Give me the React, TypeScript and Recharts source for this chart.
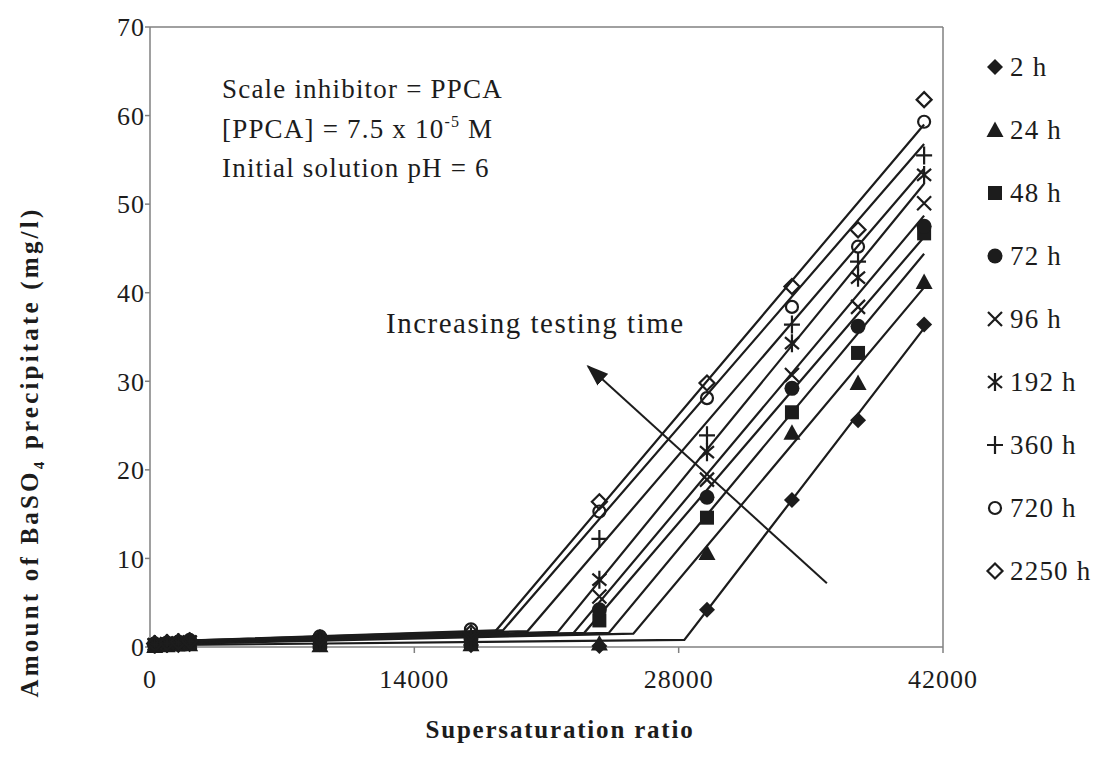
import React from "react";
import { ComposedChart, Scatter, XAxis, YAxis, ReferenceLine } from "recharts";

const FONT = '"Liberation Serif", "Times New Roman", serif';
const INK = "#1c1c1c";
const FRAME = "#808080";

// supersaturation ratios of the tested solutions
const ratios = [250, 900, 1500, 2100, 9000, 17000, 23800, 29500, 34000, 37500, 41000];

const testTimes = ["2 h", "24 h", "48 h", "72 h", "96 h", "192 h", "360 h", "720 h", "2250 h"];

// BaSO4 precipitate (mg/l) per testing time, one value per ratio
const ppt2h = [0.1, 0.2, 0.2, 0.3, 0.3, 0.2, 0.1, 4.2, 16.6, 25.6, 36.4];
const ppt24h = [0.1, 0.2, 0.3, 0.3, 0.2, 0.3, 0.4, 10.6, 24.2, 29.8, 41.2];
const ppt48h = [0.2, 0.3, 0.3, 0.4, 0.5, 0.5, 3.0, 14.6, 26.5, 33.2, 46.7];
const ppt72h = [0.3, 0.4, 0.5, 0.6, 0.8, 0.9, 4.2, 16.9, 29.2, 36.2, 47.5];
const ppt96h = [0.2, 0.3, 0.4, 0.5, 0.6, 0.7, 5.7, 18.9, 30.7, 38.4, 50.1];
const ppt192h = [0.3, 0.4, 0.5, 0.6, 0.7, 0.9, 7.6, 22.0, 34.3, 41.7, 53.3];
const ppt360h = [0.3, 0.4, 0.5, 0.6, 0.8, 1.2, 12.2, 23.9, 36.4, 43.5, 55.5];
const ppt720h = [0.4, 0.5, 0.6, 0.8, 1.2, 2.0, 15.3, 28.1, 38.4, 45.2, 59.3];
const ppt2250h = [0.4, 0.5, 0.6, 0.7, 1.0, 1.6, 16.4, 29.8, 40.7, 47.1, 61.8];

// trend lines: flat induction segment, then linear growth [ratio, mg/l]
const fit2h = [[250, 0.2], [28300, 0.8], [41000, 36.0]];
const fit24h = [[250, 0.3], [25600, 1.5], [41000, 40.6]];
const fit48h = [[250, 0.4], [24300, 1.6], [41000, 44.4]];
const fit72h = [[250, 0.5], [23000, 1.6], [41000, 46.3]];
const fit96h = [[250, 0.4], [22400, 1.5], [41000, 48.7]];
const fit192h = [[250, 0.5], [21600, 1.7], [41000, 52.3]];
const fit360h = [[250, 0.5], [20000, 1.8], [41000, 54.0]];
const fit720h = [[250, 0.6], [18700, 1.9], [41000, 56.8]];
const fit2250h = [[250, 0.6], [18300, 1.8], [41000, 59.0]];

// "increasing testing time" arrow, tail then tip
const arrowPath = [[35850, 7.2], [23200, 31.7]];

const xTicks = [0, 14000, 28000, 42000];
const yTicks = [0, 10, 20, 30, 40, 50, 60, 70];

type Kind = "diamond" | "triangle" | "square" | "dot" | "cross" | "star" | "plus" | "ring" | "openDiamond";
const kinds: Kind[] = ["diamond", "triangle", "square", "dot", "cross", "star", "plus", "ring", "openDiamond"];
const values = [ppt2h, ppt24h, ppt48h, ppt72h, ppt96h, ppt192h, ppt360h, ppt720h, ppt2250h];
const fits = [fit2h, fit24h, fit48h, fit72h, fit96h, fit192h, fit360h, fit720h, fit2250h];

const series = testTimes.map((name, i) => ({
  name,
  kind: kinds[i],
  points: ratios.map((x, j) => ({ x, y: values[i][j] })),
  fit: fits[i].map(([x, y]) => ({ x, y })),
}));

function Marker({ kind, x, y }: { kind: Kind; x: number; y: number }) {
  const sw = 2.2;
  switch (kind) {
    case "diamond":
      return <polygon points={`${x},${y - 8} ${x + 8},${y} ${x},${y + 8} ${x - 8},${y}`} fill={INK} />;
    case "triangle":
      return <polygon points={`${x},${y - 8.5} ${x + 8.5},${y + 7} ${x - 8.5},${y + 7}`} fill={INK} />;
    case "square":
      return <rect x={x - 7} y={y - 7} width={14} height={14} fill={INK} />;
    case "dot":
      return <circle cx={x} cy={y} r={7.5} fill={INK} />;
    case "cross":
      return (
        <path d={`M${x - 7},${y - 7}L${x + 7},${y + 7}M${x + 7},${y - 7}L${x - 7},${y + 7}`}
          stroke={INK} strokeWidth={sw} fill="none" />
      );
    case "star":
      return (
        <path d={`M${x - 7},${y - 6}L${x + 7},${y + 6}M${x + 7},${y - 6}L${x - 7},${y + 6}M${x},${y - 9}L${x},${y + 9}`}
          stroke={INK} strokeWidth={sw} fill="none" />
      );
    case "plus":
      return (
        <path d={`M${x - 8},${y}L${x + 8},${y}M${x},${y - 9}L${x},${y + 9}`}
          stroke={INK} strokeWidth={sw} fill="none" />
      );
    case "ring":
      return <circle cx={x} cy={y} r={6} stroke={INK} strokeWidth={sw} fill="none" />;
    default:
      return (
        <polygon points={`${x},${y - 7.5} ${x + 7.5},${y} ${x},${y + 7.5} ${x - 7.5},${y}`}
          stroke={INK} strokeWidth={sw} fill="none" />
      );
  }
}

const noDot = () => <g />;

const legendTop = 67;
const legendGap = 63;

const noteLine = { height: 39.5, lineHeight: "39.5px" };

export default function App() {
  const tickStyle = { fill: INK, fontSize: 26, fontFamily: FONT, letterSpacing: 1 };
  return (
    <div style={{ position: "relative", width: 1087, height: 756, fontFamily: FONT, color: INK }}>
      <svg width={0} height={0} style={{ position: "absolute" }}>
        <defs>
          <marker id="arrowHead" viewBox="0 0 22 16" refX={20} refY={8}
            markerWidth={22} markerHeight={16} markerUnits="userSpaceOnUse" orient="auto">
            <path d="M0,0L22,8L0,16z" fill={INK} />
          </marker>
        </defs>
      </svg>

      <ComposedChart width={1087} height={756} margin={{ top: 19, right: 152, bottom: 77, left: 0 }}>
        <XAxis type="number" dataKey="x" domain={[0, 42000]} ticks={xTicks} height={40}
          stroke={FRAME} strokeWidth={1.5} tickSize={6} tickMargin={17} tick={tickStyle} interval={0} />
        <YAxis type="number" dataKey="y" domain={[0, 70]} ticks={yTicks} width={142}
          stroke={FRAME} strokeWidth={1.5} tickSize={5} tickMargin={0} tick={tickStyle} interval={0} />
        <ReferenceLine y={70} stroke={FRAME} strokeWidth={1.5} />
        <ReferenceLine x={42000} stroke={FRAME} strokeWidth={1.5} />

        {series.map((s) => (
          <Scatter key={`fit-${s.name}`} data={s.fit} line={{ stroke: INK, strokeWidth: 2.2 }}
            shape={noDot} isAnimationActive={false} />
        ))}
        {series.map((s) => (
          <Scatter key={`pts-${s.name}`} name={s.name} data={s.points} isAnimationActive={false}
            shape={(p: any) => <Marker kind={s.kind} x={p.cx} y={p.cy} />} />
        ))}
        <Scatter data={arrowPath.map(([x, y]) => ({ x, y }))} shape={noDot} isAnimationActive={false}
          line={{ stroke: INK, strokeWidth: 2, markerEnd: "url(#arrowHead)" }} />
      </ComposedChart>

      {/* annotations */}
      <div style={{ position: "absolute", left: 214, top: 62, fontSize: 27, letterSpacing: 1.2, whiteSpace: "nowrap" }}>
        <div style={noteLine}>Scale inhibitor = PPCA</div>
        <div style={noteLine}>
          [PPCA] = 7.5 x 10
          <span style={{ fontSize: 16, lineHeight: 0, position: "relative", top: -11 }}>-5</span> M
        </div>
        <div style={noteLine}>Initial solution pH = 6</div>
      </div>
      <div style={{ position: "absolute", left: 378, top: 299, fontSize: 29, letterSpacing: 1.5, whiteSpace: "nowrap" }}>
        Increasing testing time
      </div>

      {/* legend */}
      {series.map((s, i) => (
        <div key={s.name} style={{
          position: "absolute", left: 977, top: legendTop + i * legendGap - 8 - 16, height: 32,
          display: "flex", alignItems: "center", fontSize: 27, letterSpacing: 1.2, whiteSpace: "nowrap",
        }}>
          <svg width={20} height={20} style={{ marginRight: 5 }}>
            <Marker kind={s.kind} x={10} y={10} />
          </svg>
          {s.name}
        </div>
      ))}

      {/* axis titles */}
      <div style={{
        position: "absolute", left: 24, top: 444, transform: "translate(-50%, -50%) rotate(-90deg)",
        fontSize: 25, fontWeight: "bold", letterSpacing: 3.2, whiteSpace: "nowrap",
      }}>
        Amount of BaSO<sub style={{ fontSize: 15 }}>4</sub> precipitate (mg/l)
      </div>
      <div style={{
        position: "absolute", left: 552, top: 722, transform: "translate(-50%, -50%)",
        fontSize: 25, fontWeight: "bold", letterSpacing: 1.8, whiteSpace: "nowrap",
      }}>
        Supersaturation ratio
      </div>
    </div>
  );
}
